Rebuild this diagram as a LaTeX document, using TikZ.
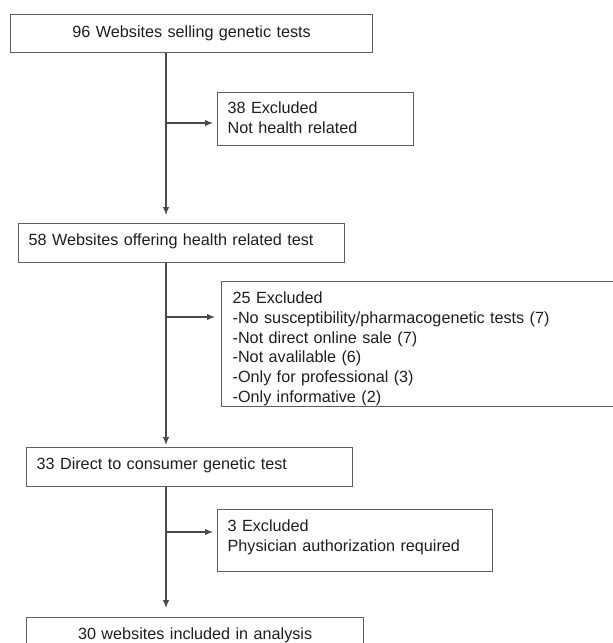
\documentclass[tikz,border=0pt]{standalone}
\usepackage{fontspec}
\setmainfont{Liberation Sans}
\usetikzlibrary{arrows.meta}
\definecolor{framegray}{HTML}{5E5E5E}
\definecolor{linegray}{HTML}{4A4A4A}
\definecolor{inkgray}{HTML}{1E1E1E}
\tikzset{
  box/.style={draw=framegray, line width=1.3pt, anchor=north west, inner xsep=10pt, inner ysep=0pt,
    align=left, text=inkgray, font=\fontsize{16.2}{19.8}\selectfont},
  flow/.style={draw=linegray, line width=1.2pt, -{Latex[length=8pt,width=6.5pt]}},
}
\begin{document}
\begin{tikzpicture}[x=1pt,y=-1pt]
  \useasboundingbox (0,0) rectangle (613,643);
  \coordinate (J1) at (166,123);
  \coordinate (J2) at (166,317);
  \coordinate (J3) at (166,532);
  \node[box, align=center, text width=342pt, text height=22.8pt, text depth=15.2pt] (sites) at (10,14)
    {96 Websites selling genetic tests};
  \node[box, text width=176pt, text height=20.8pt, text depth=32.2pt] (exhealth) at (217,92)
    {38 Excluded\\Not health related};
  \node[box, text width=306pt, text height=21.8pt, text depth=17.2pt] (health) at (18,223)
    {58 Websites offering health related test};
  \node[box, inner xsep=11pt, text width=384pt, text height=21.8pt, text depth=103.2pt] (exdtc) at (221,281)
    {25 Excluded\\-No susceptibility/pharmacogenetic tests (7)\\-Not direct online sale (7)\\-Not avalilable (6)\\-Only for professional (3)\\-Only informative (2)};
  \node[box, text width=306pt, text height=21.8pt, text depth=17.2pt] (dtc) at (26,447)
    {33 Direct to consumer genetic test};
  \node[box, text width=255pt, text height=21.8pt, text depth=40.2pt] (exphys) at (217,509)
    {3 Excluded\\Physician authorization required};
  \node[box, align=center, text width=317pt, text height=21.8pt, text depth=30pt] (final) at (26,617)
    {30 websites included in analysis};
  % trunk and side branches
  \draw[flow, shorten >=8pt] (sites.south -| J1) -- (health.north -| J1);
  \draw[flow, shorten >=4pt] (J1) -- (J1 -| exhealth.west);
  \draw[flow, shorten >=2pt] (health.south -| J2) -- (dtc.north -| J2);
  \draw[flow, shorten >=6pt] (J2) -- (J2 -| exdtc.west);
  \draw[flow, shorten >=9pt] (dtc.south -| J3) -- (final.north -| J3);
  \draw[flow, shorten >=4pt] (J3) -- (J3 -| exphys.west);
\end{tikzpicture}
\end{document}
